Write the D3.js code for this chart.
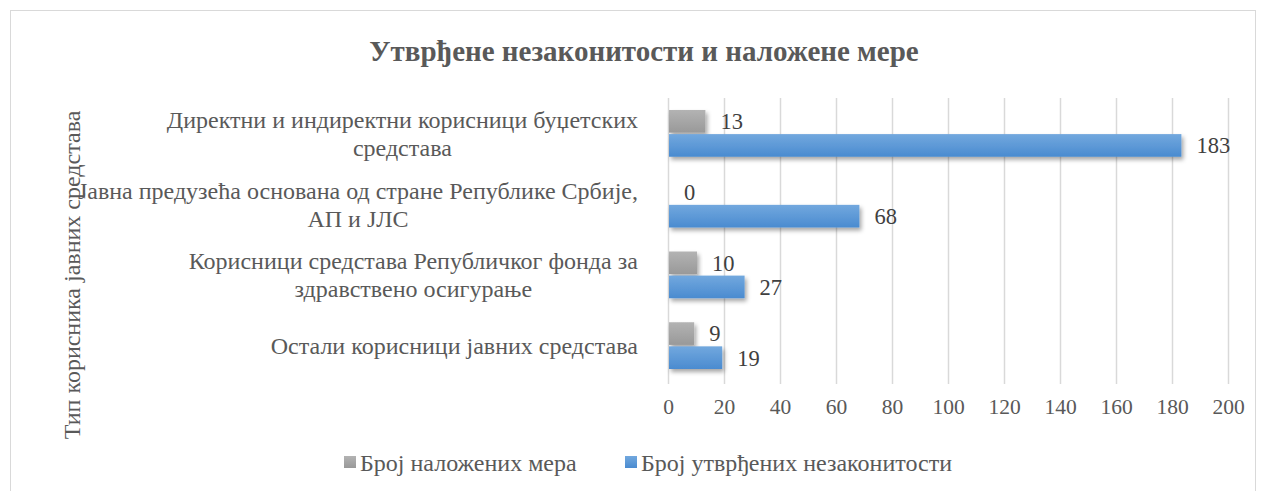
<!DOCTYPE html>
<html>
<head>
<meta charset="utf-8">
<script src="https://cdn.jsdelivr.net/npm/d3@7"></script>
<style>
  body { margin: 0; background: #fff; }
  text { font-family: "Liberation Serif", "Times New Roman", serif; fill: #595959; }
</style>
</head>
<body>
<div id="chart"></div>
<script>
const categories = [
  ['Директни и индиректни корисници буџетских', 'средстава'],
  ['Јавна предузећа основана од стране Републике Србије,', 'АП и ЈЛС'],
  ['Корисници средстава Републичког фонда за', 'здравствено осигурање'],
  ['Остали корисници јавних средстава']
];
const measures = [13, 0, 10, 9];
const irregularities = [183, 68, 27, 19];
const seriesNames = ['Број наложених мера', 'Број утврђених незаконитости'];
const xTicks = [0, 20, 40, 60, 80, 100, 120, 140, 160, 180, 200];

const width = 1265, height = 491;
const margin = { top: 98, right: 37, bottom: 110, left: 668 };

const svg = d3.select('#chart').append('svg')
  .attr('width', width).attr('height', height);

const defs = svg.append('defs');
const f = defs.append('filter').attr('id', 'sh').attr('x', '-10%').attr('y', '-30%').attr('width', '130%').attr('height', '180%');
f.append('feDropShadow').attr('dx', 2).attr('dy', 3).attr('stdDeviation', 2)
  .attr('flood-color', '#000').attr('flood-opacity', 0.35);
function grad(id, c1, c2) {
  const g = defs.append('linearGradient').attr('id', id).attr('x1', 0).attr('y1', 0).attr('x2', 0).attr('y2', 1);
  g.append('stop').attr('offset', '0%').attr('stop-color', c1);
  g.append('stop').attr('offset', '100%').attr('stop-color', c2);
}
grad('gBlue', '#72a8de', '#4a8bd0');
grad('gGray', '#b3b3b3', '#999999');

svg.append('rect').attr('x', 10.5).attr('y', 10.5).attr('width', 1245).attr('height', 500)
  .attr('fill', 'none').attr('stroke', '#d9d9d9');

const x = d3.scaleLinear().domain([0, 200]).range([margin.left, width - margin.right]);
const y = d3.scaleBand().domain(d3.range(categories.length))
  .range([margin.top, height - margin.bottom]).paddingInner(0).paddingOuter(0);
const inner = d3.scaleBand().domain([0, 1]).range([12, y.bandwidth() - 12]).paddingInner(0.06);

// gridlines
svg.append('g').selectAll('line').data(xTicks).join('line')
  .attr('x1', d => x(d) + 0.5).attr('x2', d => x(d) + 0.5)
  .attr('y1', margin.top).attr('y2', height - margin.bottom + 3)
  .attr('stroke', '#d9d9d9').attr('stroke-width', 1.5);

// x axis labels
svg.append('g')
  .attr('transform', `translate(0,${height - margin.bottom})`)
  .call(d3.axisBottom(x).tickValues(xTicks).tickSize(0).tickPadding(18))
  .call(g => g.select('.domain').remove())
  .call(g => g.selectAll('text').attr('font-size', 21.5).attr('fill', '#404040')
    .style('font-family', '"Liberation Serif", serif'));

const series = [measures, irregularities];
const fills = ['url(#gGray)', 'url(#gBlue)'];
series.forEach((vals, s) => {
  const g = svg.append('g');
  g.selectAll('rect').data(vals).join('rect')
    .attr('x', x(0) + 1)
    .attr('y', (d, i) => y(i) + inner(s))
    .attr('width', d => Math.max(0, x(d) - x(0)))
    .attr('height', inner.bandwidth())
    .attr('fill', fills[s])
    .attr('filter', d => d > 0 ? 'url(#sh)' : null);
  g.selectAll('text').data(vals).join('text')
    .attr('x', d => x(d) + 16)
    .attr('y', (d, i) => y(i) + inner(s) + inner.bandwidth() / 2)
    .attr('dy', '0.35em')
    .attr('font-size', 22.5)
    .style('fill', '#404040')
    .text(d => d);
});

// category labels
const cat = svg.append('g');
categories.forEach((lines, i) => {
  const cy = y(i) + y.bandwidth() / 2;
  const t = cat.append('text').attr('font-size', 24).attr('text-anchor', 'middle');
  const lh = 28;
  lines.forEach((ln, k) => {
    t.append('tspan').attr('y', cy + (k - (lines.length - 1) / 2) * lh).attr('dy', '0.35em').text(ln);
  });
  // right align the block at x = 638
  t.selectAll('tspan').attr('x', 0);
  const w = t.node().getBBox().width;
  t.selectAll('tspan').attr('x', 638 - w / 2);
});

// title
svg.append('text').attr('x', 644).attr('y', 61).attr('text-anchor', 'middle')
  .attr('font-size', 29).attr('font-weight', 'bold').text('Утврђене незаконитости и наложене мере');

// axis title
svg.append('text').attr('transform', 'translate(80,275) rotate(-90)')
  .attr('text-anchor', 'middle').attr('font-size', 24).text('Тип корисника јавних средстава');

// legend
const leg = svg.append('g').attr('transform', 'translate(0,463)');
const legX = [344, 625];
seriesNames.forEach((n, i) => {
  leg.append('rect').attr('x', legX[i]).attr('y', -7).attr('width', 12).attr('height', 12).attr('fill', fills[i]);
  leg.append('text').attr('x', legX[i] + 16).attr('y', 0).attr('dy', '0.35em').attr('font-size', 24).text(n);
});
</script>
</body>
</html>
